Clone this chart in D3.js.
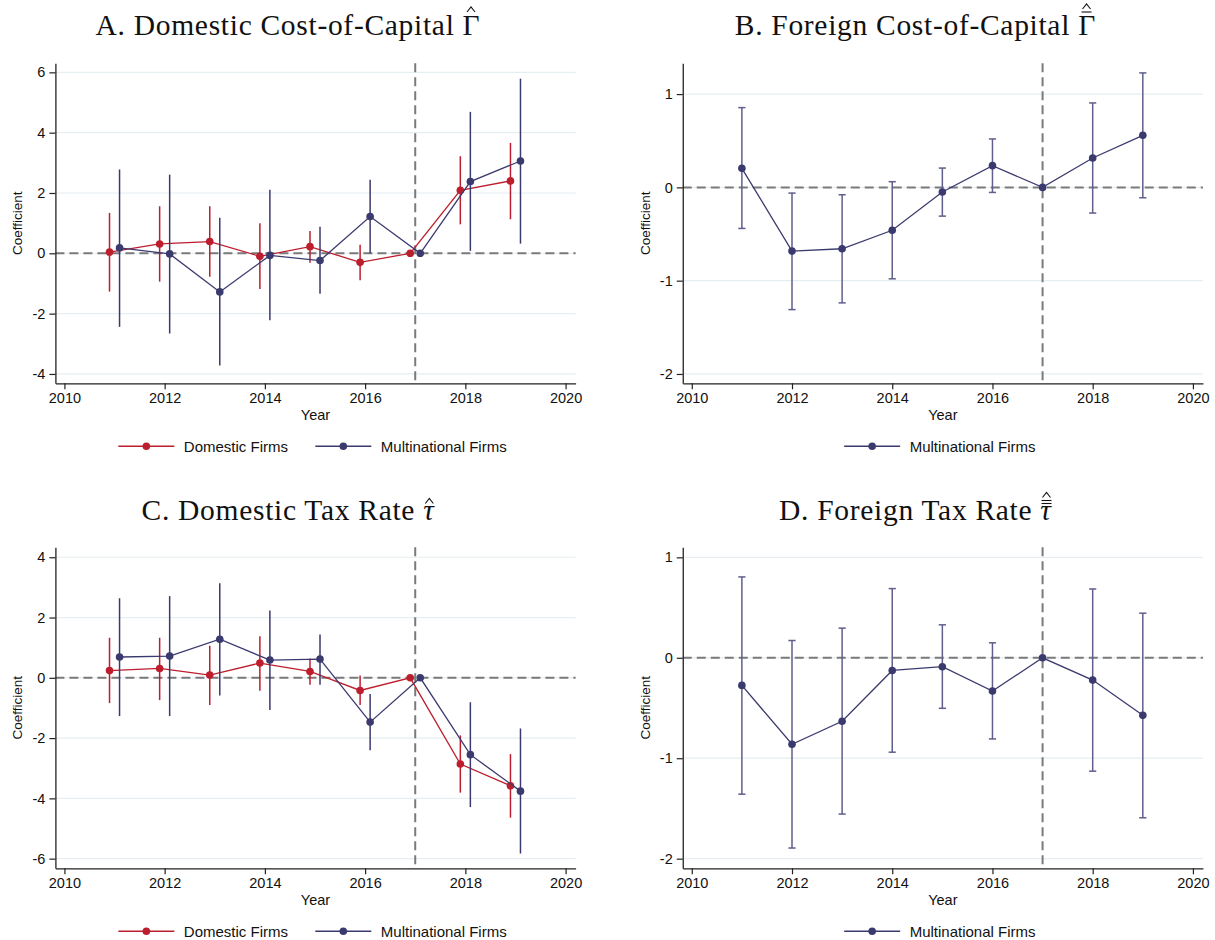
<!DOCTYPE html>
<html><head><meta charset="utf-8">
<script src="https://cdn.jsdelivr.net/npm/d3@7"></script>
<style>body{margin:0;background:#fff} svg{display:block} text{font-family:"Liberation Sans",Arial,sans-serif}</style>
</head><body><svg id="c" width="1215" height="940"></svg>
<script>
// ---------- data ----------
const years = [2011, 2012, 2013, 2014, 2015, 2016, 2017, 2018, 2019];
const xTicks = [2010, 2012, 2014, 2016, 2018, 2020];
const refYear = 2017;
const seriesNames = ["Domestic Firms", "Multinational Firms"];

// Panel A: Domestic cost-of-capital
const aDomCoef = [0.04, 0.31, 0.39, -0.10, 0.22, -0.30, 0, 2.09, 2.40];
const aDomLo   = [-1.27, -0.94, -0.78, -1.18, -0.31, -0.89, null, 0.96, 1.13];
const aDomHi   = [1.34, 1.56, 1.56, 1.00, 0.74, 0.28, null, 3.22, 3.66];
const aMnCoef  = [0.18, -0.02, -1.28, -0.07, -0.24, 1.22, 0, 2.38, 3.06];
const aMnLo    = [-2.44, -2.66, -3.72, -2.22, -1.34, 0.00, null, 0.08, 0.32];
const aMnHi    = [2.78, 2.61, 1.18, 2.11, 0.88, 2.44, null, 4.69, 5.79];
const aTicks   = [-4, -2, 0, 2, 4, 6];

// Panel B: Foreign cost-of-capital (multinationals)
const bCoef = [0.204, -0.683, -0.658, -0.46, -0.05, 0.233, 0, 0.315, 0.558];
const bLo   = [-0.44, -1.31, -1.238, -0.98, -0.308, -0.054, null, -0.275, -0.111];
const bHi   = [0.855, -0.061, -0.079, 0.061, 0.207, 0.519, null, 0.905, 1.227];
const bTicks = [-2, -1, 0, 1];

// Panel C: Domestic tax rate
const cDomCoef = [0.24, 0.31, 0.09, 0.49, 0.21, -0.42, 0, -2.86, -3.58];
const cDomLo   = [-0.84, -0.74, -0.90, -0.43, -0.23, -0.90, null, -3.81, -4.64];
const cDomHi   = [1.33, 1.33, 1.06, 1.38, 0.64, 0.08, null, -1.91, -2.53];
const cMnCoef  = [0.69, 0.72, 1.28, 0.59, 0.62, -1.47, 0, -2.55, -3.76];
const cMnLo    = [-1.27, -1.27, -0.59, -1.07, -0.23, -2.40, null, -4.29, -5.83];
const cMnHi    = [2.64, 2.71, 3.14, 2.23, 1.44, -0.54, null, -0.81, -1.68];
const cTicks   = [-6, -4, -2, 0, 2, 4];

// Panel D: Foreign tax rate (multinationals)
const dCoef = [-0.275, -0.861, -0.632, -0.126, -0.089, -0.331, 0, -0.222, -0.573];
const dLo   = [-1.358, -1.894, -1.556, -0.94, -0.503, -0.808, null, -1.129, -1.593];
const dHi   = [0.805, 0.172, 0.295, 0.689, 0.328, 0.149, null, 0.685, 0.444];
const dTicks = [-2, -1, 0, 1];

// ---------- style ----------
const RED = "#bd1e2d", NAVY = "#3b3a6e", NAVY_CI = "#5f5e8c";
const GRID = "#e6eef1", REF = "#7a7a7a", AXIS = "#222";
const FS = 14.5;

const svg = d3.select("#c");

function build(arrCoef, arrLo, arrHi) {
  return years.map((yr, i) => ({yr, c: arrCoef[i], lo: arrLo[i], hi: arrHi[i]}));
}

const panels = [
  {key: "A", col: 0, row: 0, yDomain: [-4.31, 6.3], ticks: aTicks, caps: false,
   series: [{name: seriesNames[0], color: RED, ci: RED, off: -0.1, data: build(aDomCoef, aDomLo, aDomHi)},
            {name: seriesNames[1], color: NAVY, ci: NAVY, off: 0.1, data: build(aMnCoef, aMnLo, aMnHi)}],
   title: "A. Domestic Cost-of-Capital ", sym: "Γ", accent: "hat"},
  {key: "B", col: 1, row: 0, yDomain: [-2.1, 1.33], ticks: bTicks, caps: true,
   series: [{name: seriesNames[1], color: NAVY, ci: NAVY_CI, off: 0, data: build(bCoef, bLo, bHi)}],
   title: "B. Foreign Cost-of-Capital ", sym: "Γ", accent: "hatbar"},
  {key: "C", col: 0, row: 1, yDomain: [-6.32, 4.33], ticks: cTicks, caps: false,
   series: [{name: seriesNames[0], color: RED, ci: RED, off: -0.1, data: build(cDomCoef, cDomLo, cDomHi)},
            {name: seriesNames[1], color: NAVY, ci: NAVY, off: 0.1, data: build(cMnCoef, cMnLo, cMnHi)}],
   title: "C. Domestic Tax Rate ", sym: "τ", accent: "hat"},
  {key: "D", col: 1, row: 1, yDomain: [-2.096, 1.1], ticks: dTicks, caps: true,
   series: [{name: seriesNames[1], color: NAVY, ci: NAVY_CI, off: 0, data: build(dCoef, dLo, dHi)}],
   title: "D. Foreign Tax Rate ", sym: "τ", accent: "hatbar"}
];

const colLeft = [55.4, 682.75];
const rowTop = [63.3, 547.3];
const rowBottom = [383.3, 868.3];
const plotW = 520.2;

panels.forEach(p => {
  const left = colLeft[p.col], right = left + plotW;
  const top = rowTop[p.row], bottom = rowBottom[p.row];
  const x = d3.scaleLinear().domain([2009.82, 2020.2]).range([left, right]);
  const y = d3.scaleLinear().domain(p.yDomain).range([bottom, top]);
  const g = svg.append("g");

  // grid
  g.selectAll(null).data(p.ticks).join("line")
    .attr("x1", left).attr("x2", right)
    .attr("y1", d => y(d)).attr("y2", d => y(d))
    .attr("stroke", GRID).attr("stroke-width", 1.2);

  // reference lines
  g.append("line").attr("x1", left).attr("x2", right).attr("y1", y(0)).attr("y2", y(0))
    .attr("stroke", REF).attr("stroke-width", 2).attr("stroke-dasharray", "9,5");
  g.append("line").attr("x1", x(refYear)).attr("x2", x(refYear)).attr("y1", top).attr("y2", bottom)
    .attr("stroke", REF).attr("stroke-width", 2).attr("stroke-dasharray", "9,5");

  // axes
  const ya = d3.axisLeft(y).tickValues(p.ticks).tickSize(6).tickPadding(4).tickSizeOuter(0)
    .tickFormat(d => d < 0 ? "-" + Math.abs(d) : d);
  const yg = g.append("g").attr("transform", `translate(${left},0)`).call(ya);
  const xa = d3.axisBottom(x).tickValues(xTicks).tickSize(6).tickPadding(3.5).tickSizeOuter(0)
    .tickFormat(d3.format("d"));
  const xg = g.append("g").attr("transform", `translate(0,${bottom})`).call(xa);
  [yg, xg].forEach(a => {
    a.select(".domain").attr("stroke", AXIS).attr("stroke-width", 1.3);
    a.selectAll(".tick line").attr("stroke", AXIS).attr("stroke-width", 1.2);
    a.selectAll(".tick text").attr("fill", "#111").style("font-size", FS + "px")
      .style("font-family", '"Liberation Sans",Arial,sans-serif');
  });

  // axis titles
  g.append("text").attr("x", (left + right) / 2).attr("y", bottom + 37)
    .attr("text-anchor", "middle").style("font-size", FS + "px").attr("fill", "#111").text("Year");
  g.append("text").attr("transform", `translate(${left - 33},${(top + bottom) / 2}) rotate(-90)`)
    .attr("text-anchor", "middle").style("font-size", "13.5px").attr("fill", "#111").text("Coefficient");

  // series
  p.series.forEach(s => {
    const pts = s.data;
    const ci = pts.filter(d => d.lo != null);
    g.selectAll(null).data(ci).join("line")
      .attr("x1", d => x(d.yr + s.off)).attr("x2", d => x(d.yr + s.off))
      .attr("y1", d => y(d.lo)).attr("y2", d => y(d.hi))
      .attr("stroke", s.ci).attr("stroke-width", 1.5);
    if (p.caps) {
      ["lo", "hi"].forEach(k => {
        g.selectAll(null).data(ci).join("line")
          .attr("x1", d => x(d.yr + s.off) - 3.6).attr("x2", d => x(d.yr + s.off) + 3.6)
          .attr("y1", d => y(d[k])).attr("y2", d => y(d[k]))
          .attr("stroke", s.ci).attr("stroke-width", 1.5);
      });
    }
    g.append("path").datum(pts)
      .attr("d", d3.line().x(d => x(d.yr + s.off)).y(d => y(d.c)))
      .attr("fill", "none").attr("stroke", s.color).attr("stroke-width", 1.3);
    g.selectAll(null).data(pts).join("circle")
      .attr("cx", d => x(d.yr + s.off)).attr("cy", d => y(d.c)).attr("r", 3.8)
      .attr("fill", s.color);
  });

  // legend
  const ly = bottom + 63;
  const lg = g.append("g");
  const items = [];
  p.series.forEach((s, i) => {
    const it = lg.append("g");
    it.append("line").attr("x1", 0).attr("x2", 56).attr("y1", 0).attr("y2", 0)
      .attr("stroke", s.color).attr("stroke-width", 1.4);
    it.append("circle").attr("cx", 28).attr("cy", 0).attr("r", 3.8).attr("fill", s.color);
    const t = it.append("text").attr("x", 65.5).attr("y", 5.2).style("font-size", "15px")
      .attr("fill", "#111").text(s.name);
    const w = 65.5 + t.node().getComputedTextLength();
    items.push({it, w});
  });
  const gap = 27.3;
  const total = d3.sum(items, d => d.w) + gap * (items.length - 1);
  let sx = (left + right) / 2 - 3 - total / 2;
  items.forEach(d => { d.it.attr("transform", `translate(${sx},${ly})`); sx += d.w + gap; });

  // title
  const tcx = left - 55.4 + 288;
  const tby = p.row === 0 ? 35 : 520;
  const tt = g.append("text").attr("x", tcx).attr("y", tby).attr("text-anchor", "middle")
    .style("font-family", '"Liberation Serif","Times New Roman",serif').style("font-size", "29.5px")
    .style("letter-spacing", "0.7px")
    .attr("fill", "#111");
  tt.append("tspan").text(p.title);
  const symSpan = tt.append("tspan").text(p.sym);
  if (p.sym === "τ") symSpan.style("font-style", "italic");
  // accent marks over the symbol
  const node = tt.node();
  const n = node.getNumberOfChars();
  const ext = node.getExtentOfChar(n - 1);
  const cx = ext.x + ext.width / 2 + (p.sym === "τ" ? 0.5 : -0.5);
  const capTop = p.sym === "Γ" ? tby - 20 : tby - 13.5;
  const acc = g.append("g").attr("fill", "none").attr("stroke", "#111").attr("stroke-width", 1.1);
  let base = capTop - 3;
  if (p.accent === "hatbar") {
    acc.append("line").attr("x1", cx - 5).attr("x2", cx + 5).attr("y1", base).attr("y2", base);
    if (p.sym === "τ") {
      acc.append("line").attr("x1", cx - 5).attr("x2", cx + 5).attr("y1", base - 3).attr("y2", base - 3);
      base -= 3;
    }
    base -= 3;
  }
  acc.append("path").attr("d", `M${cx - 4},${base} L${cx},${base - 5} L${cx + 4},${base}`);
});
</script>
</body></html>
